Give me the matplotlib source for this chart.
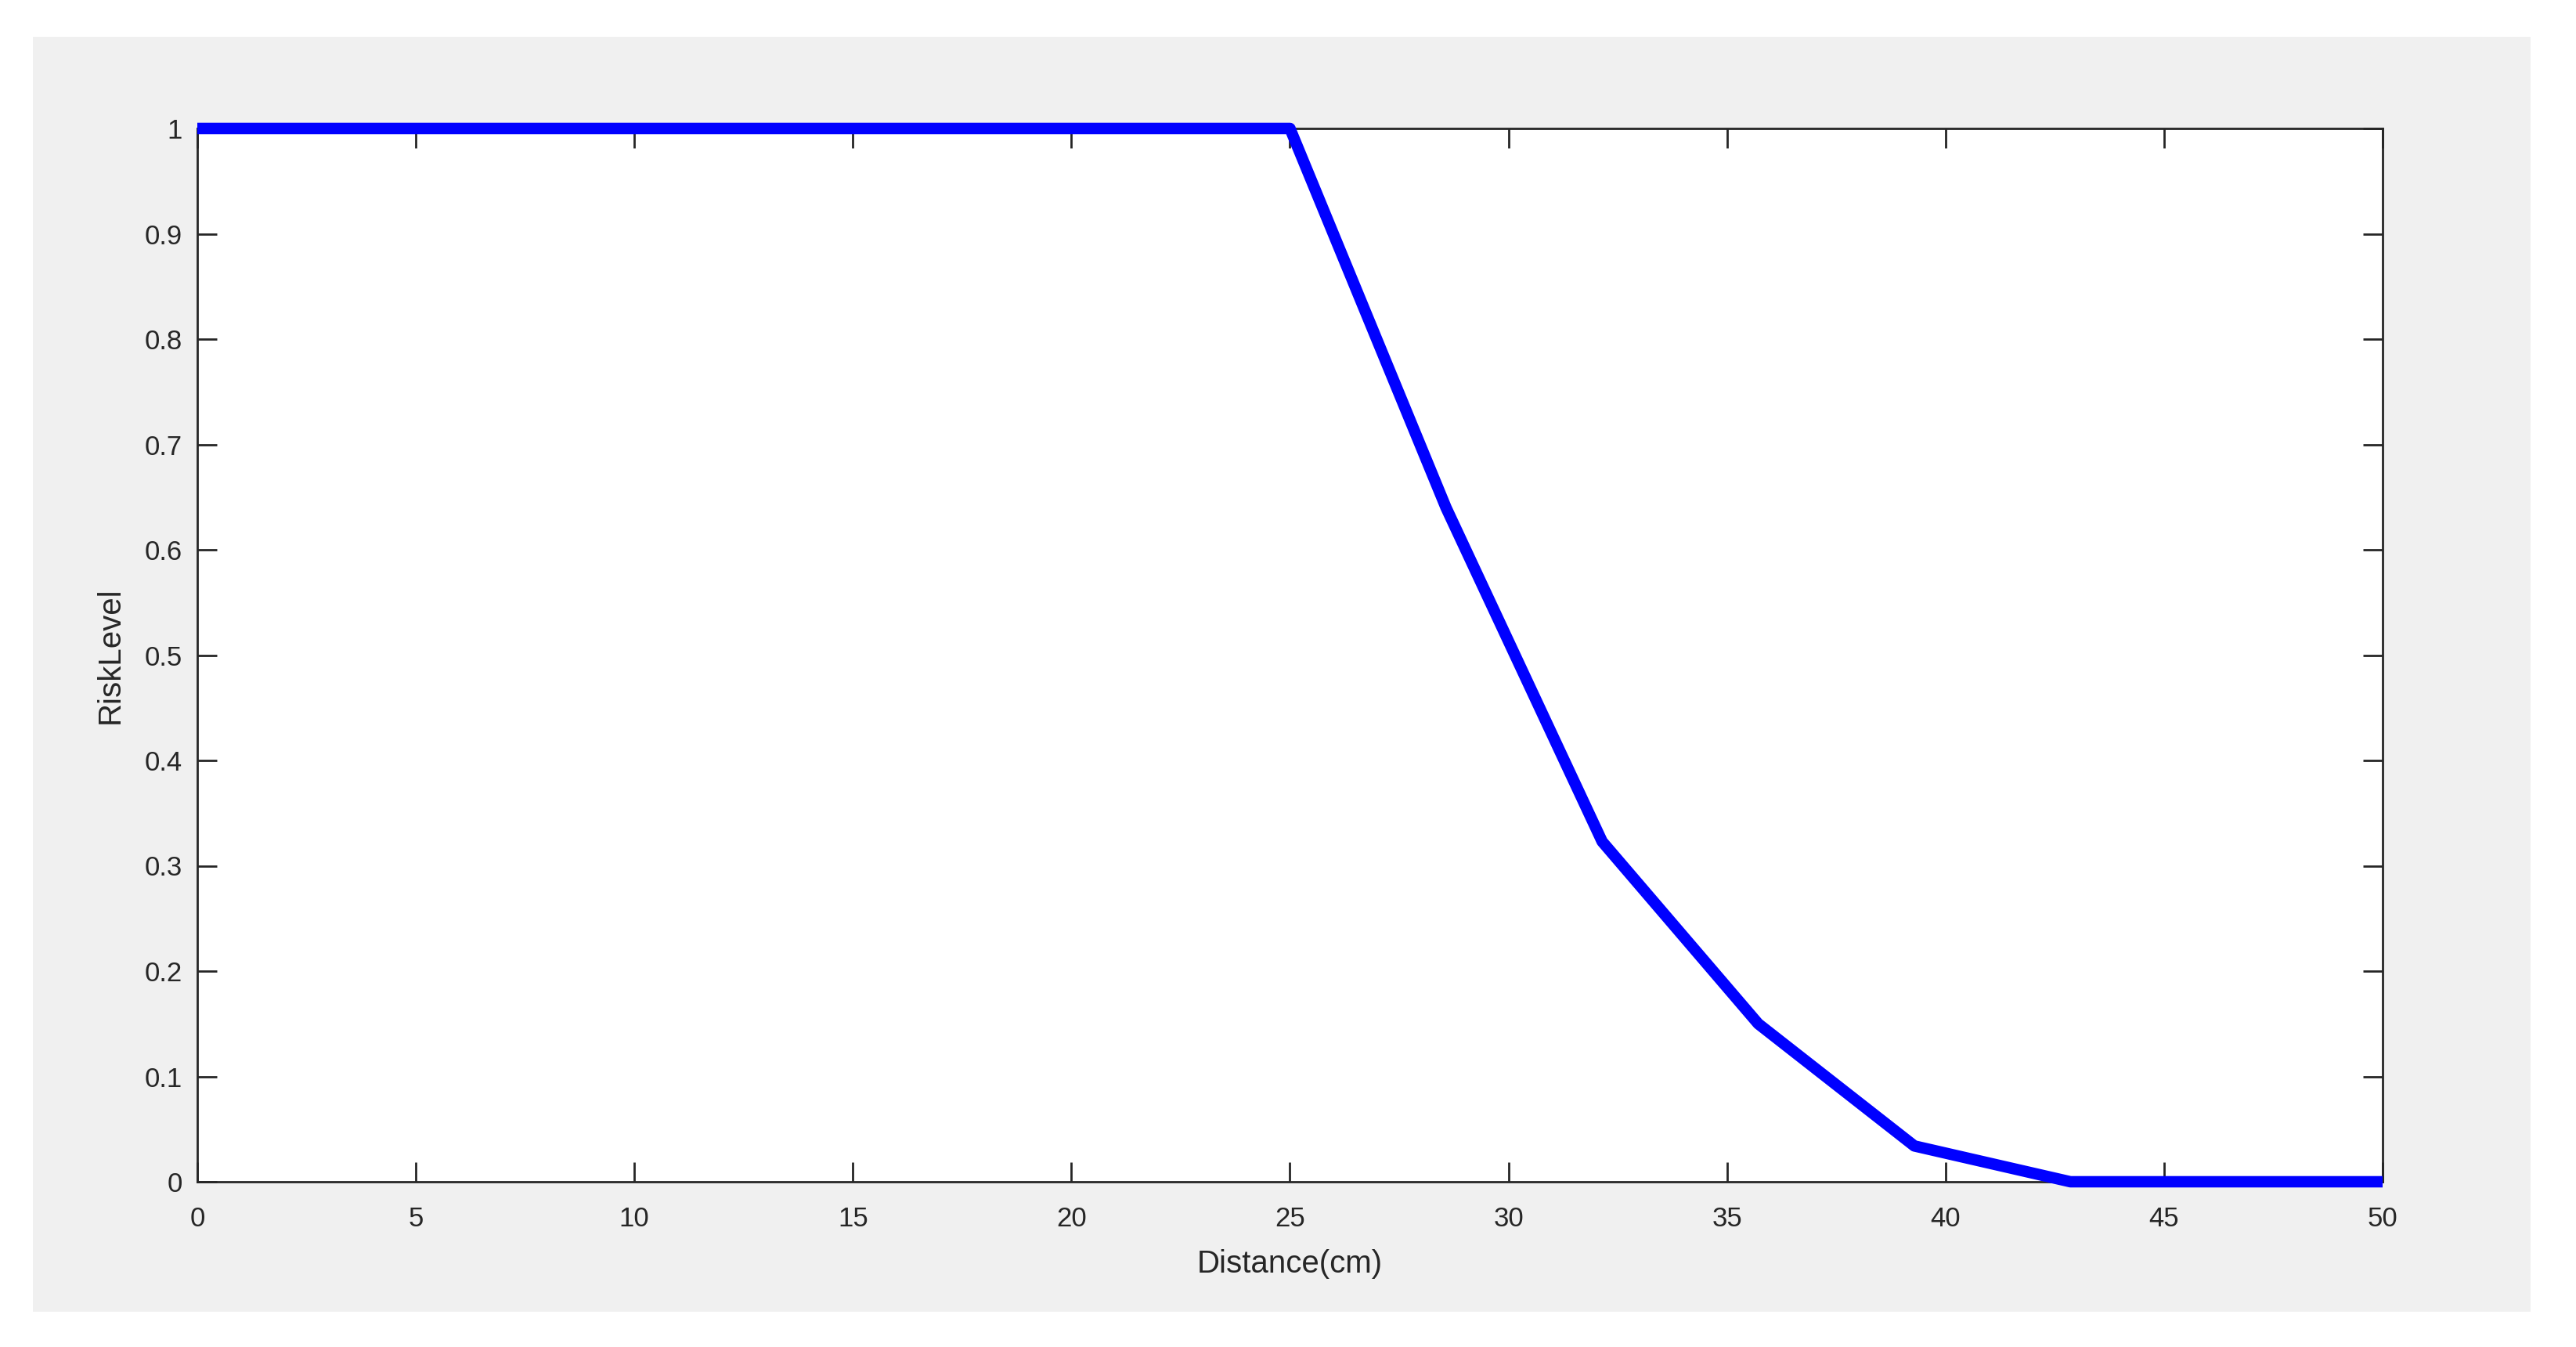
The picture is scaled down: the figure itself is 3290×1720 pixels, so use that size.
import matplotlib.pyplot as plt
from matplotlib.patches import Rectangle

plt.rcParams['font.family'] = ['Liberation Sans', 'DejaVu Sans']

# distance (cm) vs risk level
distance = [0, 3.571, 7.143, 10.714, 14.286, 17.857, 21.429, 25.0,
            28.571, 32.143, 35.714, 39.286, 42.857, 46.429, 50.0]
risk = [1, 1, 1, 1, 1, 1, 1, 1,
        0.64, 0.323, 0.15, 0.034, 0, 0, 0]

xticks = [0, 5, 10, 15, 20, 25, 30, 35, 40, 45, 50]
yticks = [0, 0.1, 0.2, 0.3, 0.4, 0.5, 0.6, 0.7, 0.8, 0.9, 1]
ytick_labels = ['0', '0.1', '0.2', '0.3', '0.4', '0.5', '0.6', '0.7', '0.8', '0.9', '1']

W, H = 3291, 1720
fig = plt.figure(figsize=(W / 100, H / 100), dpi=100, facecolor='white')

# grey figure panel like the matlab window
fig.patches.append(Rectangle((42 / W, 1 - 1675 / H), (3232 - 42) / W, (1675 - 47) / H,
                             transform=fig.transFigure, facecolor='#f0f0f0',
                             edgecolor='none', zorder=-10))

ax = fig.add_axes([252 / W, 1 - 1509 / H, (3043 - 252) / W, (1509 - 164) / H])
ax.set_facecolor('white')

ax.plot(distance, risk, color='#0000ff', linewidth=10.5, clip_on=False,
        solid_joinstyle='round', solid_capstyle='butt', zorder=5)

ax.set_xlim(0, 50)
ax.set_ylim(0, 1)
ax.set_xticks(xticks)
ax.set_yticks(yticks)
ax.set_yticklabels(ytick_labels)

for s in ax.spines.values():
    s.set_color('#262626')
    s.set_linewidth(2)

ax.tick_params(axis='both', direction='in', length=18, width=2, color='#262626',
               labelsize=25, labelcolor='#262626', top=True, right=True)
ax.tick_params(axis='x', pad=22)
ax.tick_params(axis='y', pad=14)

ax.set_xlabel('Distance(cm)', fontsize=29, color='#262626', labelpad=16)
ax.set_ylabel('RiskLevel', fontsize=29, color='#262626', labelpad=18)

plt.savefig('out.png', dpi=100, facecolor='white')
